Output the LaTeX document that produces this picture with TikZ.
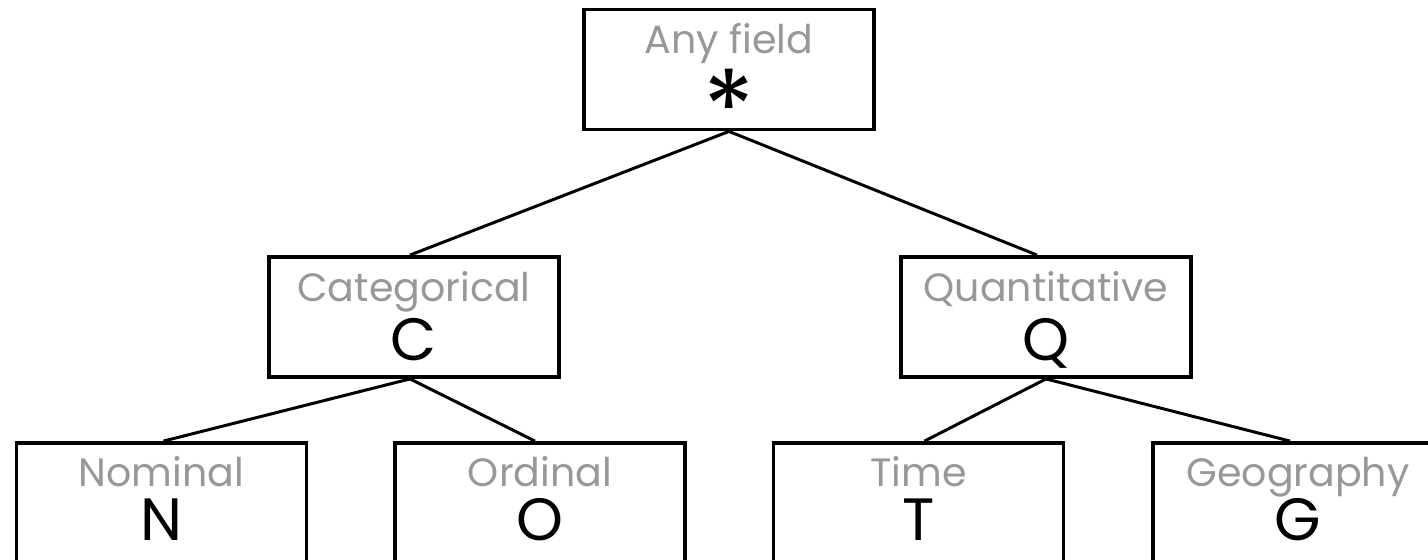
\documentclass[tikz,border=0pt]{standalone}
\usepackage{fontspec}
\setmainfont{Poppins}
\definecolor{namegray}{RGB}{150,152,156}
\tikzstyle{TypeBox}=[rectangle, draw=black, line width=2.2pt, minimum width=5.8cm, minimum height=2.4cm, inner sep=0pt]
\tikzstyle{TypeName}=[anchor=base, inner sep=0pt, text=namegray, font=\fontsize{22.5}{22.5}\selectfont]
\tikzstyle{TypeLetter}=[anchor=base, inner sep=0pt, font=\fontsize{34}{34}\selectfont]
\tikzstyle{TreeEdge}=[line width=1.7pt]

\begin{document}
\begin{tikzpicture}[x=0.02cm, y=-0.02cm]
\useasboundingbox (0,0) rectangle (1428,560);
\clip (0,0) rectangle (1428,560);

\node[TypeBox](any) at (729,69.5) {};
\node[TypeName](anyname) at ([yshift=-0.92cm]any.north) {Any field};
\node[TypeLetter, font=\fontsize{60}{60}\selectfont](anyletter) at ([yshift=-2.77cm]any.north) {*};

\node[TypeBox](cat) at (414,317) {};
\node[TypeName](catname) at ([yshift=-0.92cm]cat.north) {Categorical};
\node[TypeLetter](catletter) at ([yshift=-2.1cm]cat.north) {C};

\node[TypeBox](quant) at (1046,317) {};
\node[TypeName](quantname) at ([yshift=-0.92cm]quant.north) {Quantitative};
\node[TypeLetter](quantletter) at ([yshift=-2.1cm]quant.north) {Q};

%%%%%%%%%%%%%%%%%%%%%%%%%%%%%%%%%%%%%%%%%

\node[TypeBox](nom) at (161.5,503) {};
\node[TypeName](nomname) at ([yshift=-0.9cm]nom.north) {Nominal};
\node[TypeLetter](nomletter) at ([yshift=-1.98cm]nom.north) {N};

\node[TypeBox](ord) at (540,503) {};
\node[TypeName](ordname) at ([yshift=-0.9cm]ord.north) {Ordinal};
\node[TypeLetter](ordletter) at ([yshift=-1.98cm]ord.north) {O};

\node[TypeBox](time) at (918.5,503) {};
\node[TypeName](timename) at ([yshift=-0.9cm]time.north) {Time};
\node[TypeLetter](timeletter) at ([yshift=-1.98cm]time.north) {T};

\node[TypeBox](geo) at (1298,503) {};
\node[TypeName](geoname) at ([yshift=-0.9cm]geo.north) {Geography};
\node[TypeLetter](geoletter) at ([yshift=-1.98cm]geo.north) {G};

%%%%%%%%%%%%%%%%%%%%%%%%%%%%%%%%%%%%%%%%%

\draw[TreeEdge](any.south) -- ([xshift=-0.08cm]cat.north);
\draw[TreeEdge](any.south) -- ([xshift=-0.18cm]quant.north);
\draw[TreeEdge]([xshift=-0.08cm]cat.south) -- ([xshift=0.04cm]nom.north);
\draw[TreeEdge]([xshift=-0.08cm]cat.south) -- ([xshift=-0.1cm]ord.north);
\draw[TreeEdge](quant.south) -- ([xshift=0.12cm]time.north);
\draw[TreeEdge](quant.south) -- ([xshift=-0.16cm]geo.north);
\end{tikzpicture}
\end{document}
